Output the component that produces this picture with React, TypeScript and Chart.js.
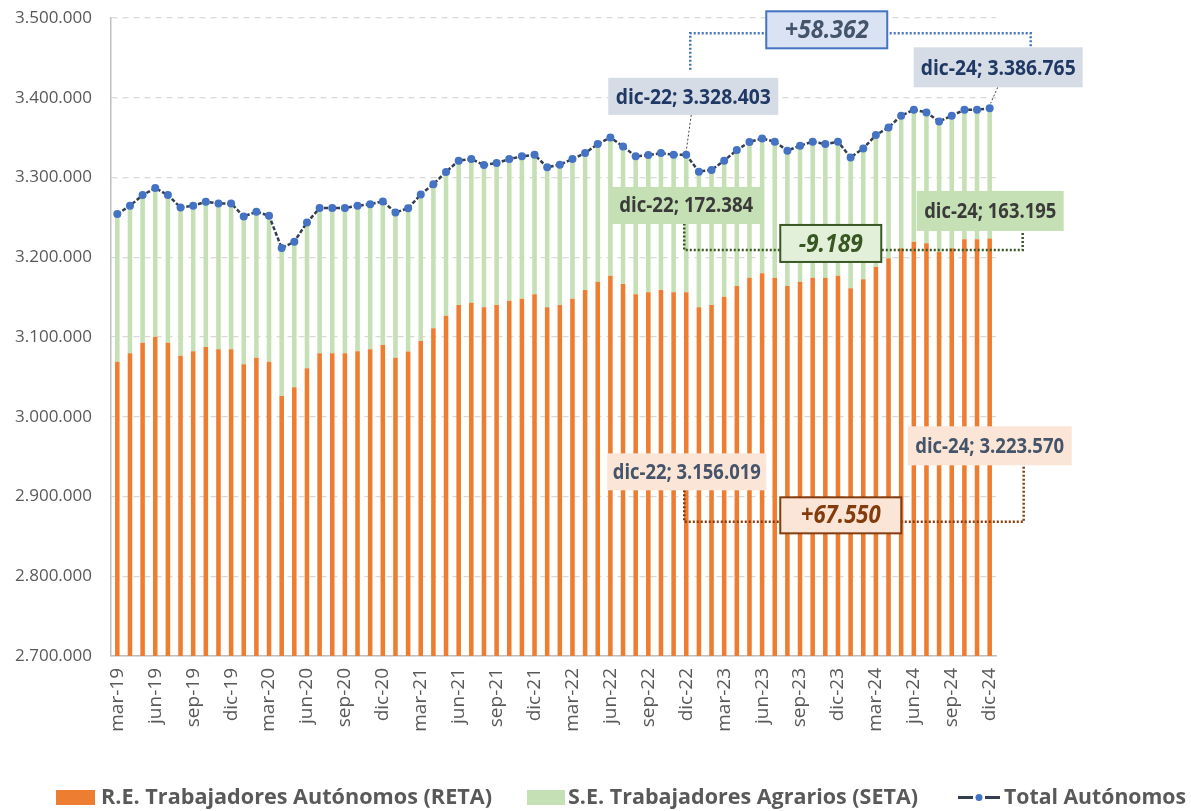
import React, { useEffect, useRef } from "react";
import { Chart, registerables } from "chart.js";

Chart.register(...registerables);

const MONTHS = ["ene", "feb", "mar", "abr", "may", "jun", "jul", "ago", "sep", "oct", "nov", "dic"];
const LABELS: string[] = [];
for (let i = 0; i < 70; i++) {
  const m = (2 + i) % 12;
  const yr = 19 + Math.floor((2 + i) / 12);
  LABELS.push(`${MONTHS[m]}-${yr}`);
}

// R.E. Trabajadores Autónomos (RETA), mar-19 .. dic-24
const RETA = [
  3069000, 3079600, 3092900, 3100400, 3092900, 3076600, 3082100, 3087500, 3084600, 3084600,
  3065800, 3074100, 3069000, 3026000, 3036900, 3060800, 3079600, 3079600, 3079600, 3082100,
  3084600, 3090000, 3074100, 3081800, 3095000, 3110900, 3126700, 3140100, 3143000, 3137200,
  3140100, 3145500, 3148000, 3153500, 3137200, 3140100, 3148000, 3158900, 3169300, 3176900,
  3166500, 3153500, 3156100, 3158900, 3156100, 3156019, 3137200, 3140100, 3150500, 3164000,
  3174400, 3179900, 3174400, 3164000, 3169300, 3174400, 3174400, 3176900, 3161100, 3172400,
  3187800, 3198700, 3211200, 3219500, 3217500, 3207000, 3211200, 3222500, 3222500, 3223570,
];

// Total Autónomos, mar-19 .. dic-24
const TOTAL = [
  3254100, 3264600, 3277900, 3286700, 3277900, 3262500, 3264600, 3269700, 3267500, 3267500,
  3251200, 3257100, 3252100, 3211500, 3219500, 3243700, 3261600, 3261600, 3261600, 3264600,
  3266600, 3270000, 3256200, 3261300, 3278800, 3291600, 3307000, 3321100, 3323100, 3315600,
  3318100, 3323100, 3326500, 3328600, 3312700, 3316100, 3323100, 3330600, 3341900, 3350300,
  3339000, 3326500, 3328100, 3330600, 3328600, 3328403, 3307300, 3309500, 3321100, 3334400,
  3344600, 3349000, 3344900, 3333600, 3339900, 3344900, 3341900, 3344900, 3325200, 3336500,
  3353200, 3362800, 3377500, 3385000, 3381600, 3370300, 3377500, 3385000, 3385000, 3386765,
];

// S.E. Trabajadores Agrarios (SETA) = Total - RETA
const SETA = TOTAL.map((t, i) => t - RETA[i]);

const LEGEND_LABELS = [
  "R.E. Trabajadores Autónomos (RETA)",
  "S.E. Trabajadores Agrarios (SETA)",
  "Total Autónomos",
];

// change labels as printed on the chart: total, SETA, RETA
const DELTA_LABELS = ["+58.362", "-9.189", "+67.550"];

const I22 = 45;
const I24 = 69;

const C_RETA = "#ED7D31";
const C_SETA = "#C5E0B4";
const C_LINE = "#333F50";
const C_MARK = "#4472C4";

const fmt = (v: number) => String(Math.round(v)).replace(/\B(?=(\d{3})+(?!\d))/g, ".");

const FONT_STACK = "'Open Sans', 'DejaVu Sans', sans-serif";

function fitText(
  ctx: CanvasRenderingContext2D,
  text: string,
  cx: number,
  cy: number,
  w: number,
  size: number,
  color: string,
  italic = false
) {
  ctx.save();
  ctx.font = `${italic ? "italic " : ""}bold ${size}px ${FONT_STACK}`;
  const m = ctx.measureText(text).width;
  const s = w / m;
  ctx.translate(cx, cy);
  ctx.scale(s, 1);
  ctx.textAlign = "center";
  ctx.textBaseline = "middle";
  ctx.fillStyle = color;
  ctx.fillText(text, 0, 1);
  ctx.restore();
}

function leftText(
  ctx: CanvasRenderingContext2D,
  text: string,
  x0: number,
  cy: number,
  w: number,
  size: number,
  color: string
) {
  ctx.save();
  ctx.font = `bold ${size}px ${FONT_STACK}`;
  const m = ctx.measureText(text).width;
  ctx.translate(x0, cy);
  ctx.scale(w / m, 1);
  ctx.textAlign = "left";
  ctx.textBaseline = "middle";
  ctx.fillStyle = color;
  ctx.fillText(text, 0, 1);
  ctx.restore();
}

function rectBox(
  ctx: CanvasRenderingContext2D,
  l: number,
  t: number,
  r: number,
  b: number,
  fill: string,
  stroke?: string,
  lw = 2
) {
  ctx.save();
  ctx.fillStyle = fill;
  ctx.fillRect(l, t, r - l, b - t);
  if (stroke) {
    ctx.setLineDash([]);
    ctx.lineWidth = lw;
    ctx.strokeStyle = stroke;
    ctx.strokeRect(l, t, r - l, b - t);
  }
  ctx.restore();
}

function poly(
  ctx: CanvasRenderingContext2D,
  pts: number[][],
  color: string,
  lw: number,
  dash: number[]
) {
  ctx.save();
  ctx.beginPath();
  ctx.setLineDash(dash);
  ctx.lineWidth = lw;
  ctx.strokeStyle = color;
  ctx.moveTo(pts[0][0], pts[0][1]);
  for (let i = 1; i < pts.length; i++) ctx.lineTo(pts[i][0], pts[i][1]);
  ctx.stroke();
  ctx.restore();
}

const annotPlugin = {
  id: "annots",
  afterDatasetsDraw(chart: any) {
    const ctx: CanvasRenderingContext2D = chart.ctx;
    const xs = chart.scales.x;
    const ys = chart.scales.y;
    const x22 = xs.getPixelForValue(I22);
    const x24 = xs.getPixelForValue(I24);
    const yT22 = ys.getPixelForValue(TOTAL[I22]);
    const yT24 = ys.getPixelForValue(TOTAL[I24]);
    const yR22 = ys.getPixelForValue(RETA[I22]);
    const yR24 = ys.getPixelForValue(RETA[I24]);

    // ---- Total (blue) ----
    const yb = yT24 - 75;
    poly(ctx, [[x22 + 4, yT22 - 85], [x22 + 4, yb], [x24 + 41, yb], [x24 + 41, yT24 - 61]], C_MARK, 2.5, [2, 2]);
    poly(ctx, [[x22 + 5, yT22 - 40], [x22, yT22 - 4]], "#404040", 1, [2, 2]);
    poly(ctx, [[x24 + 8, yT24 - 21], [x24 + 1, yT24 - 5]], "#404040", 1, [2, 2]);
    rectBox(ctx, x22 - 78, yT22 - 77, x22 + 92, yT22 - 40, "#D6DCE5");
    fitText(ctx, `${LABELS[I22]}; ${fmt(TOTAL[I22])}`, x22 + 7, yT22 - 58.5, 155, 22, "#1F3864");
    rectBox(ctx, x24 - 76, yT24 - 61, x24 + 93, yT24 - 21, "#D6DCE5");
    fitText(ctx, `${LABELS[I24]}; ${fmt(TOTAL[I24])}`, x24 + 8.5, yT24 - 41, 155, 22, "#1F3864");
    rectBox(ctx, x22 + 80, yT24 - 97, x22 + 201, yT24 - 60, "#DAE3F3", C_MARK, 2);
    fitText(ctx, DELTA_LABELS[0], x22 + 140.5, yT24 - 78.5, 84, 25, "#44546A", true);

    // ---- SETA (green) ----
    const yg = yR24 + 11.5;
    poly(ctx, [[x22 - 2, yR24 - 15], [x22 - 2, yg], [x24 + 33, yg], [x24 + 33, yR24 - 8]], "#385723", 2.5, [2, 2]);
    rectBox(ctx, x22 - 75, yR24 - 51.5, x22 + 75, yR24 - 14.5, C_SETA);
    fitText(ctx, `${LABELS[I22]}; ${fmt(SETA[I22])}`, x22, yR24 - 33, 134, 21, "#3A3A3A");
    rectBox(ctx, x24 - 73, yR24 - 47.5, x24 + 74, yR24 - 7.5, C_SETA);
    fitText(ctx, `${LABELS[I24]}; ${fmt(SETA[I24])}`, x24 + 0.5, yR24 - 27.5, 132, 21, "#3A3A3A");
    rectBox(ctx, x22 + 94, yR24 - 13.5, x22 + 195, yR24 + 23.5, "#E2F0D9", "#385723", 2);
    fitText(ctx, DELTA_LABELS[1], x22 + 144.5, yR24 + 5, 64, 25, "#385723", true);

    // ---- RETA (orange) ----
    const yo = yR22 + 229.5;
    poly(ctx, [[x22 - 2, yR22 + 198], [x22 - 2, yo], [x24 + 34, yo], [x24 + 34, yR22 + 173]], "#843C0C", 2.5, [2, 2]);
    rectBox(ctx, x22 - 79, yR22 + 161, x22 + 80, yR22 + 198, "#FBE5D6");
    fitText(ctx, `${LABELS[I22]}; ${fmt(RETA[I22])}`, x22 + 0.5, yR22 + 179.5, 148, 21, "#44546A");
    rectBox(ctx, x24 - 82, yR22 + 134, x24 + 82, yR22 + 173, "#FBE5D6");
    fitText(ctx, `${LABELS[I24]}; ${fmt(RETA[I24])}`, x24, yR22 + 153.5, 149, 21, "#44546A");
    rectBox(ctx, x22 + 94, yR22 + 205, x22 + 215, yR22 + 241, "#FBE5D6", "#843C0C", 2);
    fitText(ctx, DELTA_LABELS[2], x22 + 154.5, yR22 + 223, 80, 25, "#843C0C", true);
  },
  afterDraw(chart: any) {
    const ctx: CanvasRenderingContext2D = chart.ctx;
    const cy = 797.5;
    // legend
    rectBox(ctx, 56, 790, 95, 805, C_RETA);
    leftText(ctx, LEGEND_LABELS[0], 101, cy, 391, 21, "#595959");
    rectBox(ctx, 527, 790, 565, 805, C_SETA);
    leftText(ctx, LEGEND_LABELS[1], 568, cy, 350, 21, "#595959");
    poly(ctx, [[958, cy], [973, cy]], C_LINE, 3, []);
    poly(ctx, [[985, cy], [1000, cy]], C_LINE, 3, []);
    ctx.save();
    ctx.fillStyle = C_MARK;
    ctx.beginPath();
    ctx.arc(979, cy, 3.5, 0, Math.PI * 2);
    ctx.fill();
    ctx.restore();
    leftText(ctx, LEGEND_LABELS[2], 1004, cy, 182, 21, "#595959");
  },
};

export default function App() {
  const ref = useRef<HTMLCanvasElement | null>(null);

  useEffect(() => {
    document.body.style.margin = "0";
    const canvas = ref.current;
    if (!canvas) return;
    const chart = new Chart(canvas, {
      type: "bar",
      data: {
        labels: LABELS,
        datasets: [
          {
            type: "line",
            label: LEGEND_LABELS[2],
            data: TOTAL,
            borderColor: C_LINE,
            borderWidth: 2.5,
            borderDash: [4, 2],
            pointRadius: 4,
            pointBackgroundColor: C_MARK,
            pointBorderWidth: 0,
            tension: 0,
            order: 0,
            stack: "total",
          } as any,
          {
            type: "bar",
            label: LEGEND_LABELS[0],
            data: RETA,
            backgroundColor: C_RETA,
            barPercentage: 0.36,
            categoryPercentage: 1,
            order: 1,
            stack: "bars",
          },
          {
            type: "bar",
            label: LEGEND_LABELS[1],
            data: SETA,
            backgroundColor: C_SETA,
            barPercentage: 0.36,
            categoryPercentage: 1,
            order: 2,
            stack: "bars",
          },
        ],
      },
      options: {
        animation: false,
        responsive: false,
        maintainAspectRatio: false,
        layout: { padding: { left: 0, right: 195, top: 18, bottom: 60 } },
        plugins: { legend: { display: false }, tooltip: { enabled: false } },
        scales: {
          x: {
            stacked: true,
            grid: { display: false, drawTicks: false },
            border: { display: true, color: "#BFBFBF", width: 1.5 },
            ticks: {
              autoSkip: false,
              maxRotation: 90,
              minRotation: 90,
              padding: 12,
              color: "#595959",
              font: { family: FONT_STACK, size: 19 },
              callback: (_v: any, i: number) => (i % 3 === 0 ? LABELS[i] : ""),
            },
            afterFit: (s: any) => {
              s.height = 95;
              s.paddingLeft = 0;
              s.paddingRight = 0;
              s.paddingTop = 0;
              s.paddingBottom = 0;
            },
          },
          y: {
            stacked: true,
            min: 2700000,
            max: 3500000,
            grid: { color: "#D9D9D9", lineWidth: 1.2, drawTicks: false },
            border: { display: true, color: "#BFBFBF", width: 1.5, dash: [6, 5] },
            ticks: {
              stepSize: 100000,
              padding: 19,
              color: "#595959",
              font: { family: FONT_STACK, size: 17 },
              callback: (v: any) => fmt(Number(v)),
            },
            afterFit: (s: any) => {
              s.width = 111;
              s.paddingTop = 0;
              s.paddingBottom = 0;
              s.paddingLeft = 0;
              s.paddingRight = 0;
            },
          },
        },
      },
      plugins: [annotPlugin],
    });
    return () => chart.destroy();
  }, []);

  return <canvas ref={ref} width={1191} height={811} style={{ display: "block", width: 1191, height: 811 }} />;
}
